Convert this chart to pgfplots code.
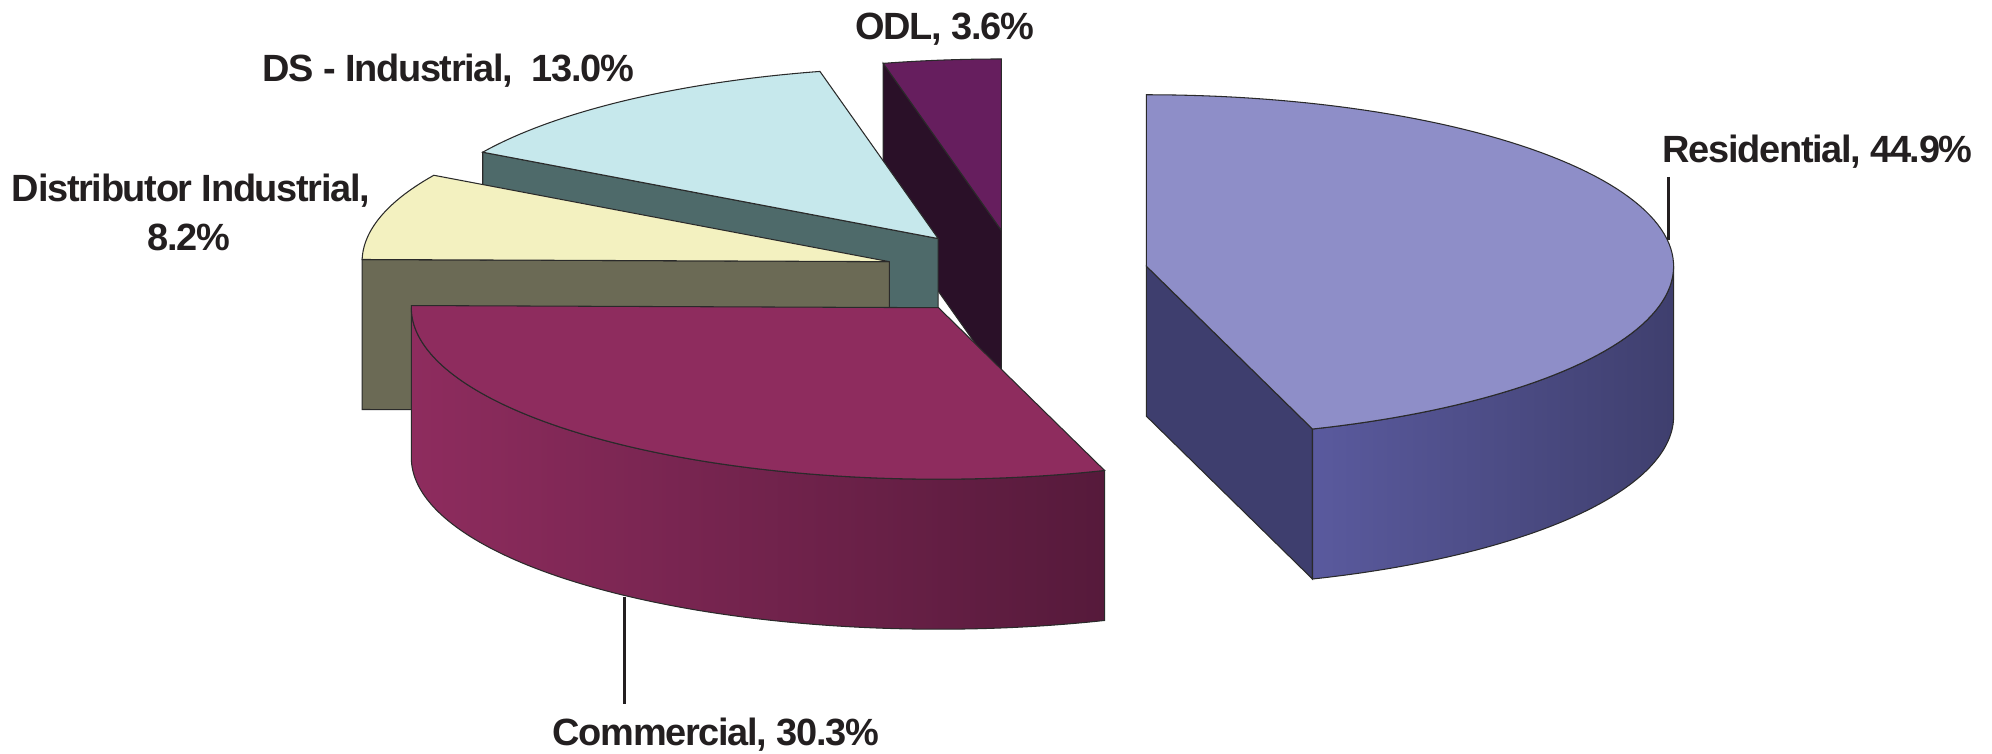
\documentclass[border=0pt]{standalone}
\usepackage{fontspec}
\setmainfont{Liberation Sans}
\usepackage{pgfplots}
\pgfplotsset{compat=1.18}

\definecolor{resTop}{HTML}{8E8EC8}
\definecolor{resEnd}{HTML}{3E3E6E}
\definecolor{resCurL}{HTML}{5A5A9E}
\definecolor{resCurR}{HTML}{3F3F6E}
\definecolor{comTop}{HTML}{8E2C5E}
\definecolor{comCurL}{HTML}{8E2C5E}
\definecolor{comCurR}{HTML}{561A3B}
\definecolor{disTop}{HTML}{F3F1C0}
\definecolor{disWall}{HTML}{6B6A55}
\definecolor{dsiTop}{HTML}{C6E8EC}
\definecolor{dsiWall}{HTML}{4E6A6A}
\definecolor{odlTop}{HTML}{661E5E}
\definecolor{odlWall}{HTML}{2A1028}
\definecolor{edgec}{HTML}{2A2A2A}
\definecolor{txt}{HTML}{231F20}

% slice values (percent), clockwise from 12 o'clock
\def\vRes{44.9}
\def\vCom{30.3}
\def\vDis{8.2}
\def\vDSI{13.0}
\def\vODL{3.6}

% geometry (in picture pixels)
\def\Cx{1016.3}\def\Cy{273.1}\def\A{527.2}\def\B{171.5}\def\D{150}\def\R{0.25}

\newcommand\lbl{\fontsize{10.8}{13}\selectfont\bfseries\addfontfeatures{LetterSpace=-3.5}}

% #1 start %, #2 end %, #3 top, #4 start wall, #5 end wall, #6 curved left, #7 curved right
\newcommand\pieslice[7]{%
  \pgfmathsetmacro\ts{3.6*#1}%
  \pgfmathsetmacro\te{3.6*#2}%
  \pgfmathsetmacro\tm{(\ts+\te)/2}%
  \pgfmathsetmacro\ax{\Cx+\R*\A*sin(\tm)}%
  \pgfmathsetmacro\ay{\Cy-\R*\B*cos(\tm)}%
  \pgfmathsetmacro\ayD{\ay+\D}%
  \pgfmathsetmacro\sx{\ax+\A*sin(\ts)}%
  \pgfmathsetmacro\sy{\ay-\B*cos(\ts)}%
  \pgfmathsetmacro\syD{\sy+\D}%
  \pgfmathsetmacro\ex{\ax+\A*sin(\te)}%
  \pgfmathsetmacro\ey{\ay-\B*cos(\te)}%
  \pgfmathsetmacro\eyD{\ey+\D}%
  \pgfmathtruncatemacro\sv{sin(\ts)<-0.001}%
  \pgfmathtruncatemacro\ev{sin(\te)>0.001}%
  \ifnum\sv=1
    \addplot[fill=#4, draw=edgec, line width=0.3pt] coordinates {(\ax,\ay) (\sx,\sy) (\sx,\syD) (\ax,\ayD)} -- cycle;
  \fi
  \ifnum\ev=1
    \addplot[fill=#5, draw=edgec, line width=0.3pt] coordinates {(\ax,\ay) (\ex,\ey) (\ex,\eyD) (\ax,\ayD)} -- cycle;
  \fi
  \pgfmathsetmacro\ca{max(\ts,90)}%
  \pgfmathsetmacro\cb{min(\te,270)}%
  \pgfmathtruncatemacro\cv{\cb-\ca>0.01}%
  \ifnum\cv=1
    \addplot[shade, left color=#6, right color=#7, draw=edgec, line width=0.3pt,
      domain=0:2.2, samples=221, variable=\t]
      ({\ax+\A*sin(\ca+(\cb-\ca)*(min(\t,1)-min(max(\t-1.1,0),1)))},
       {\ay-\B*cos(\ca+(\cb-\ca)*(min(\t,1)-min(max(\t-1.1,0),1)))+\D*(min(max(\t-1,0)*10,1)-min(max(\t-2.1,0)*10,1))}) -- cycle;
  \fi
  \addplot[fill=#3, draw=edgec, line width=0.3pt, domain=0:1.2, samples=121, variable=\t]
    ({\ax+(1-min(max(\t-1,0)*5,1))*\A*sin(\ts+(\te-\ts)*min(\t,1))},
     {\ay-(1-min(max(\t-1,0)*5,1))*\B*cos(\ts+(\te-\ts)*min(\t,1))}) -- cycle;
}

\begin{document}
\begin{tikzpicture}
\begin{axis}[
  scale only axis, width=19.92cm, height=7.54cm,
  xmin=0, xmax=1992, ymin=0, ymax=754, y dir=reverse,
  hide axis, clip=false]
  \pgfmathsetmacro\cA{\vRes}
  \pgfmathsetmacro\cB{\cA+\vCom}
  \pgfmathsetmacro\cC{\cB+\vDis}
  \pgfmathsetmacro\cD{\cC+\vDSI}
  \pgfmathsetmacro\cE{\cD+\vODL}
  % back to front
  \pieslice{\cD}{\cE}{odlTop}{odlWall}{odlWall}{odlWall}{odlWall}
  \pieslice{\cC}{\cD}{dsiTop}{dsiWall}{dsiWall}{dsiWall}{dsiWall}
  \pieslice{\cB}{\cC}{disTop}{disWall}{disWall}{disWall}{disWall}
  \pieslice{\cA}{\cB}{comTop}{comTop}{comTop}{comCurL}{comCurR}
  \pieslice{0}{\cA}{resTop}{resEnd}{resEnd}{resCurL}{resCurR}
  % leader lines
  \addplot[txt, line width=0.85pt] coordinates {(1668,177) (1668,240)};
  \addplot[txt, line width=0.85pt] coordinates {(624,597) (624,704)};
  % labels
  \node[anchor=base west, inner sep=0pt, text=txt, font=\lbl] at (axis cs:1662,163) {Residential, 44.9\%};
  \node[anchor=base west, inner sep=0pt, text=txt, font=\lbl] at (axis cs:552,745) {Commercial, 30.3\%};
  \node[anchor=base, inner sep=0pt, text=txt, font=\lbl] at (axis cs:191,202) {Distributor Industrial,};
  \node[anchor=base, inner sep=0pt, text=txt, font=\lbl] at (axis cs:189,251) {8.2\%};
  \node[anchor=base west, inner sep=0pt, text=txt, font=\lbl] at (axis cs:262,82) {DS - Industrial,\ \ 13.0\%};
  \node[anchor=base west, inner sep=0pt, text=txt, font=\lbl] at (axis cs:855,40) {ODL, 3.6\%};
\end{axis}
\pgfresetboundingbox
\useasboundingbox (current axis.south west) rectangle (current axis.north east);
\end{tikzpicture}
\end{document}
